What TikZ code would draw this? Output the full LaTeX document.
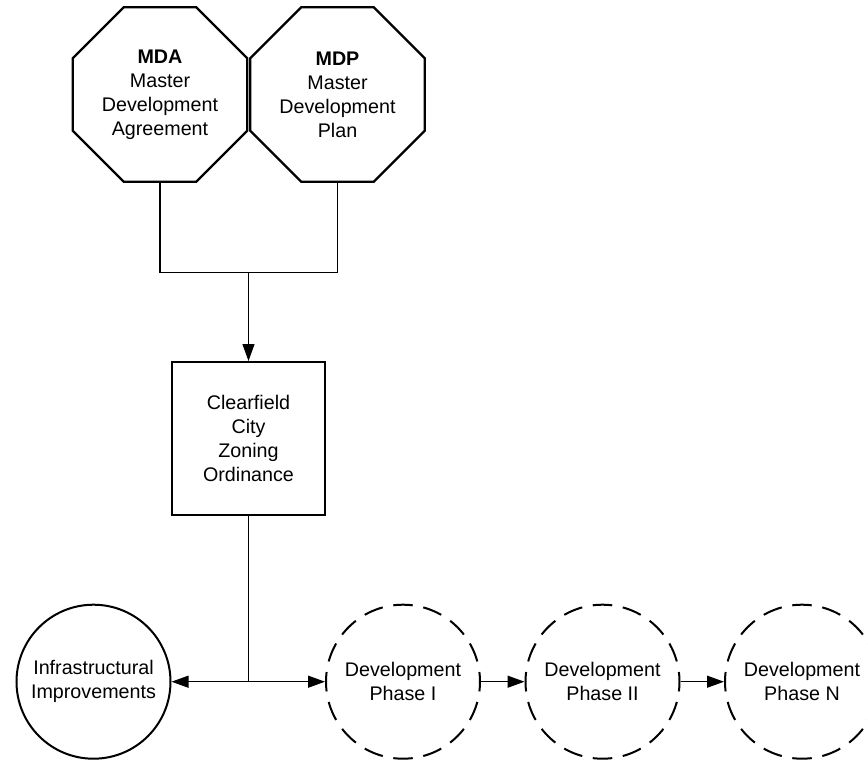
\documentclass[tikz,border=0pt]{standalone}
\usepackage{fontspec}
\setmainfont{Liberation Sans}
\usetikzlibrary{arrows.meta,shapes.geometric}

\begin{document}
\begin{tikzpicture}[x=1pt,y=-1pt]
\tikzset{every node/.style = {font=\fontsize{19.7}{24}\selectfont, align=center}}
\tikzset{octa/.style = {regular polygon, regular polygon sides=8, draw, line width=2.3pt, minimum size=189pt, inner sep=0pt}}
\tikzset{zonebox/.style = {rectangle, draw, line width=2.3pt, minimum size=152.7pt, inner sep=0pt}}
\tikzset{infra/.style = {circle, draw, line width=2pt, minimum size=154pt, inner sep=0pt}}
\tikzset{phase/.style = {infra, dash pattern=on 19.5pt off 10.74pt, dash phase=9.75pt}}
\tikzset{link/.style = {line width=1.2pt}}
\tikzset{edge/.style = {link, ->, > = {Triangle[length=17pt,width=12pt]}}}
\useasboundingbox (0,0) rectangle (868,761);
% agreements
\node[octa] (mda) at (160,94.5)   {\textbf{MDA}\\Master\\Development\\Agreement};
\node[octa] (mdp) at (337.5,94.5) {\textbf{MDP}\\Master\\Development\\Plan};
% ordinance
\node[zonebox] (zoning) at (248.5,438.5) {Clearfield\\City\\Zoning\\Ordinance};
% improvements and phases
\node[infra] (infra) at (93.5,681.7) {Infrastructural\\Improvements};
\node[phase] (ph1) at (403,681.7)   {Development\\Phase I};
\node[phase] (ph2) at (602.5,681.7) {Development\\Phase II};
\node[phase] (phn) at (802,681.7)   {Development\\Phase N};
% joints
\coordinate (join)  at (248.5,272.7);
\coordinate (split) at (248.5,681.7);
%edges
\draw[link] (mda.south) |- (join) -| (mdp.south);
\draw[edge] (join) to (zoning);
\draw[link] (zoning) to (split);
\draw[edge] (split) to (infra);
\draw[edge] (split) to (ph1);
\draw[edge] (ph1) to (ph2);
\draw[edge] (ph2) to (phn);
\end{tikzpicture}
\end{document}
